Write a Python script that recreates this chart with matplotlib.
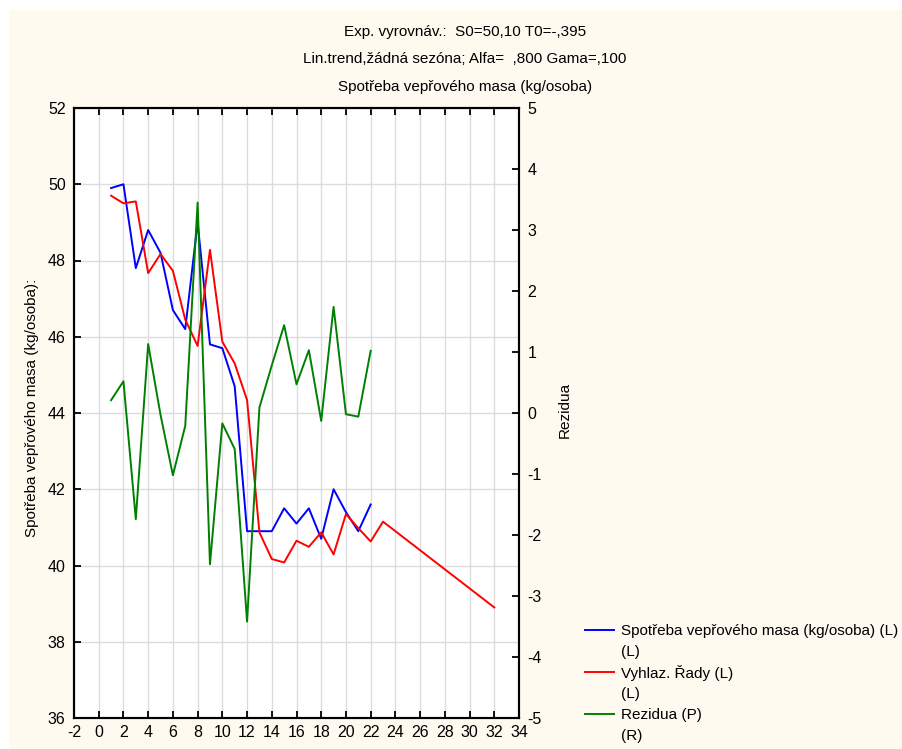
import matplotlib
matplotlib.use("Agg")
import matplotlib.pyplot as plt
from matplotlib.lines import Line2D
from matplotlib.patches import Rectangle

# ---- data ----
x_obs = list(range(1, 23))
spotreba = [49.9, 50.0, 47.8, 48.8, 48.2, 46.7, 46.2, 49.0, 45.8, 45.7, 44.7,
            40.9, 40.9, 40.9, 41.5, 41.1, 41.5, 40.7, 42.0, 41.4, 40.9, 41.6]
x_smooth = list(range(1, 24)) + [32]
vyhlaz = [49.7, 49.5, 49.55, 47.67, 48.17, 47.73, 46.45, 45.76, 48.28, 45.87, 45.3,
          44.34, 40.87, 40.17, 40.08, 40.65, 40.49, 40.87, 40.29, 41.35, 40.98, 40.63,
          41.15, 38.9]
rezidua = [0.21, 0.52, -1.74, 1.13, -0.03, -1.02, -0.21, 3.45, -2.48, -0.17, -0.59,
           -3.42, 0.09, 0.78, 1.44, 0.47, 1.03, -0.13, 1.74, -0.02, -0.06, 1.02]

x_ticks = list(range(-2, 35, 2))
yl_ticks = list(range(36, 53, 2))
yr_ticks = list(range(-5, 6, 1))

titles = ["Exp. vyrovnáv.:  S0=50,10 T0=-,395",
          "Lin.trend,žádná sezóna; Alfa=  ,800 Gama=,100",
          "Spotřeba vepřového masa (kg/osoba)"]
ylabel_left = "Spotřeba vepřového masa (kg/osoba):"
ylabel_right = "Rezidua"
legend_labels = [("Spotřeba vepřového masa (kg/osoba) (L)", "(L)"),
                 ("Vyhlaz. Řady (L)", "(L)"),
                 ("Rezidua (P)", "(R)")]
colors = ["#0000FF", "#FF0000", "#008000"]

plt.rcParams['font.family'] = ['Liberation Sans', 'DejaVu Sans']
plt.rcParams['axes.unicode_minus'] = False

W, H = 902, 749
FS = 11
fig = plt.figure(figsize=(W / 100, H / 100), dpi=100)
fig.patch.set_facecolor("white")
fig.add_artist(Rectangle((9 / W, 0), 1, 1 - 10 / H, transform=fig.transFigure,
                         facecolor="#FFFAF0", edgecolor="none", zorder=-5))

ax = fig.add_axes([74 / W, 31 / H, 445 / W, 610 / H])
ax.set_facecolor("white")
ax2 = ax.twinx()

ax.plot(x_obs, spotreba, color=colors[0], lw=1.4, zorder=3)
ax.plot(x_smooth, vyhlaz, color=colors[1], lw=1.4, zorder=4)
ax2.plot(x_obs, rezidua, color=colors[2], lw=1.4, zorder=5)

ax.set_xlim(-2, 34)
ax.set_ylim(36, 52)
ax2.set_ylim(-5, 5)
ax.set_xticks(x_ticks)
ax.set_yticks(yl_ticks)
ax2.set_yticks(yr_ticks)

ax.grid(True, color="#DCDCDC", lw=1.0)
ax.set_axisbelow(True)

for a in (ax, ax2):
    for s in a.spines.values():
        s.set_linewidth(1.5)
        s.set_color("black")
ax.tick_params(axis="both", direction="in", length=5, width=1.3, labelsize=11.5,
               colors="black", top=True)
ax.tick_params(axis="x", pad=5)
ax.tick_params(axis="y", pad=6)
ax2.tick_params(axis="y", direction="in", length=5, width=1.3, labelsize=11.5, pad=6)

ax.set_ylabel(ylabel_left, fontsize=FS)
ax.yaxis.set_label_coords((39 - 74) / 445, (718 - 407.5) / 610)
ax2.set_ylabel(ylabel_right, fontsize=FS)
ax2.yaxis.set_label_coords((558 - 74) / 445, (718 - 410) / 610)

for t, yp in zip(titles, [32, 59, 87]):
    fig.text(465 / W, 1 - yp / H, t, ha="center", va="center", fontsize=FS)

# legend
rows = [631, 673, 715]
for (lab1, lab2), c, yp in zip(legend_labels, colors, rows):
    fig.add_artist(Line2D([585 / W, 614 / W], [1 - (yp - 1) / H, 1 - (yp - 1) / H],
                          transform=fig.transFigure, color=c, lw=1.4))
    fig.text(621 / W, 1 - yp / H, lab1, ha="left", va="center", fontsize=FS)
    fig.text(621 / W, 1 - (yp + 21) / H, lab2, ha="left", va="center", fontsize=FS)

fig.savefig("out.png", dpi=100)
